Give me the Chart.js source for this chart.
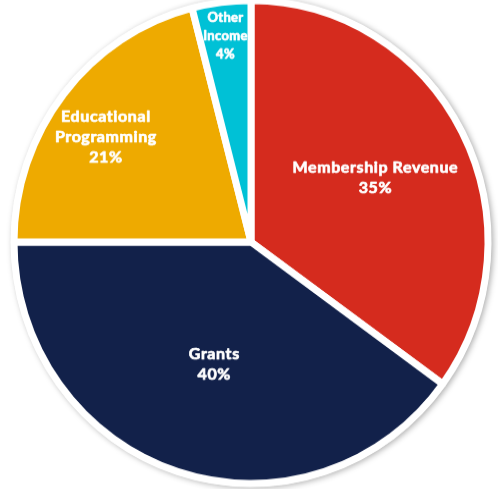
<!DOCTYPE html>
<html>
<head>
<meta charset="utf-8">
<script src="https://cdn.jsdelivr.net/npm/chart.js@4/dist/chart.umd.min.js"></script>
<style>
  html, body { margin: 0; padding: 0; background: #ffffff; }
  #wrap {
    position: absolute; left: 0; top: 0; width: 498px; height: 489px;
    transform-origin: 251px 242px; transform: scaleY(1.019);
  }
</style>
</head>
<body>
<div id="wrap"><canvas id="c" width="498" height="489"></canvas></div>
<script>
// Revenue sources (label lines) and their shares in percent
const categories = [['Membership Revenue'], ['Grants'], ['Educational', 'Programming'], ['Other', 'Income']];
const shares = [35, 40, 21, 4];
const sliceColors = ['#d52b1e', '#12214a', '#eeaa00', '#00c1d6'];

// White backing disc with a soft drop shadow behind the pie
const ringShadow = {
  id: 'ringShadow',
  beforeDatasetsDraw(chart) {
    const arc = chart.getDatasetMeta(0).data[0];
    if (!arc) return;
    const { x, y, outerRadius } = arc.getProps(['x', 'y', 'outerRadius'], true);
    const ctx = chart.ctx;
    ctx.save();
    ctx.shadowColor = 'rgba(0,0,0,0.35)';
    ctx.shadowBlur = 6;
    ctx.shadowOffsetX = 2;
    ctx.shadowOffsetY = 1;
    ctx.beginPath();
    ctx.arc(x, y, outerRadius + 3, 0, Math.PI * 2);
    ctx.fillStyle = '#ffffff';
    ctx.fill();
    ctx.restore();
  }
};

// Category name and percentage written inside each slice
const sliceLabels = {
  id: 'sliceLabels',
  afterDatasetsDraw(chart, args, opts) {
    const ctx = chart.ctx;
    const meta = chart.getDatasetMeta(0);
    meta.data.forEach((arc, i) => {
      const p = arc.getProps(['x', 'y', 'startAngle', 'endAngle', 'outerRadius'], true);
      const mid = (p.startAngle + p.endAngle) / 2 + (opts.angleShift[i] || 0) * Math.PI / 180;
      const r = p.outerRadius * opts.radial[i];
      const cx = p.x + Math.cos(mid) * r;
      const cy = p.y + Math.sin(mid) * r;
      const lines = categories[i].concat([shares[i] + '%']);
      const size = opts.sizes[i];
      const lh = opts.lineHeights[i];
      ctx.save();
      ctx.fillStyle = '#ffffff';
      ctx.strokeStyle = '#ffffff';
      ctx.lineWidth = 0.7;
      ctx.lineJoin = 'round';
      ctx.font = 'bold ' + size + 'px Lato, "Open Sans", sans-serif';
      if ('letterSpacing' in ctx) ctx.letterSpacing = opts.tracking[i] + 'px';
      ctx.textAlign = 'center';
      ctx.textBaseline = 'middle';
      const top = cy - (lines.length - 1) * lh / 2;
      lines.forEach((t, k) => {
        ctx.fillText(t, cx, top + k * lh);
        ctx.strokeText(t, cx, top + k * lh);
      });
      ctx.restore();
    });
  }
};

new Chart(document.getElementById('c'), {
  type: 'pie',
  data: {
    labels: categories.map(c => c.join(' ')),
    datasets: [{
      data: shares,
      backgroundColor: sliceColors,
      borderColor: '#ffffff',
      borderWidth: 7
    }]
  },
  options: {
    responsive: false,
    animation: false,
    radius: 237,
    layout: { padding: { left: 4, bottom: 5 } },
    plugins: {
      legend: { display: false },
      tooltip: { enabled: false },
      sliceLabels: {
        radial: [0.589, 0.53, 0.751, 0.86],
        angleShift: [0, -1, -2.4, 0],
        sizes: [16, 16, 16, 13],
        tracking: [0.6, 0.6, 0.6, 0.3],
        lineHeights: [20, 20, 20, 18]
      }
    }
  },
  plugins: [ringShadow, sliceLabels]
});
</script>
</body>
</html>
